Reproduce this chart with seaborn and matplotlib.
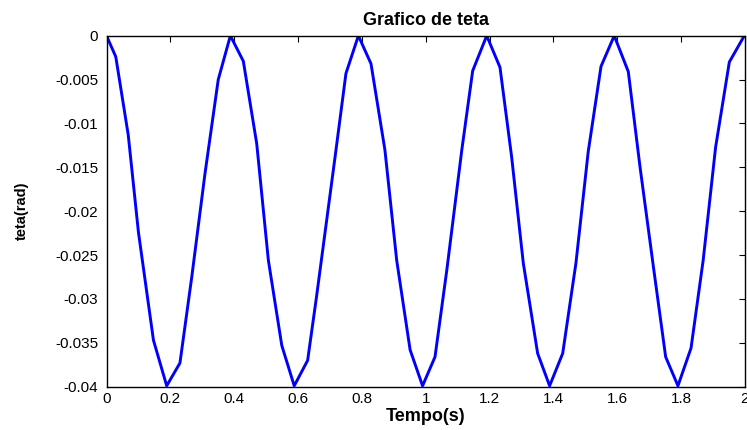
import numpy as np
import matplotlib
matplotlib.use("Agg")
import matplotlib.pyplot as plt
import seaborn as sns

# values (time in s, angle in rad)
tempo = [0.0, 0.029, 0.068, 0.100, 0.147, 0.1885, 0.230, 0.267, 0.3085, 0.350, 0.388,
         0.4285, 0.4705, 0.507, 0.549, 0.588, 0.630, 0.658, 0.716, 0.750, 0.789,
         0.8285, 0.872, 0.909, 0.951, 0.990, 1.029, 1.066, 1.113, 1.147, 1.191,
         1.2325, 1.269, 1.3055, 1.3505, 1.388, 1.429, 1.4705, 1.509, 1.549, 1.5905,
         1.6345, 1.671, 1.713, 1.7515, 1.790, 1.831, 1.869, 1.908, 1.951, 1.998]
teta = [0.0, -0.0024, -0.0113, -0.0224, -0.0347, -0.0399, -0.0373, -0.0275, -0.0157, -0.0050, 0.0,
        -0.0029, -0.0123, -0.0256, -0.0353, -0.0399, -0.0370, -0.0297, -0.0138, -0.0043, 0.0,
        -0.0032, -0.0130, -0.0256, -0.0358, -0.0399, -0.0366, -0.0267, -0.0130, -0.0040, 0.0,
        -0.0036, -0.0138, -0.0259, -0.0362, -0.0399, -0.0362, -0.0259, -0.0132, -0.0035, 0.0,
        -0.0041, -0.0149, -0.0263, -0.0366, -0.0399, -0.0356, -0.0256, -0.0127, -0.0030, 0.0]

xticks = [0, 0.2, 0.4, 0.6, 0.8, 1, 1.2, 1.4, 1.6, 1.8, 2]
yticks = [0, -0.005, -0.01, -0.015, -0.02, -0.025, -0.03, -0.035, -0.04]

sns.set_style("white")
plt.rcParams['font.family'] = ['Liberation Sans', 'DejaVu Sans']
plt.rcParams['text.color'] = 'black'
plt.rcParams['axes.labelcolor'] = 'black'
plt.rcParams['xtick.color'] = 'black'
plt.rcParams['ytick.color'] = 'black'

fig = plt.figure(figsize=(7.47, 4.30), dpi=100)
ax = fig.add_axes([0.1426, 0.1007, 0.8547, 0.8163])

sns.lineplot(x=tempo, y=teta, color='#0000ff', linewidth=2.1,
             estimator=None, sort=False, ax=ax)

ax.set_xlim(0, 2)
ax.set_ylim(-0.04, 0)
ax.set_xticks(xticks)
ax.set_xticklabels([f"{v:g}" for v in xticks])
ax.set_yticks(yticks)
ax.set_yticklabels([f"{v:g}" for v in yticks])
ax.tick_params(direction='in', length=4, width=0.8, colors='black',
               labelcolor='black', labelsize=11, top=True, right=True)
ax.tick_params(axis='y', pad=6)
ax.tick_params(axis='x', pad=4)
for s in ax.spines.values():
    s.set_visible(True)
    s.set_color('black')
    s.set_linewidth(1.0)

ax.set_title("Grafico de teta", fontsize=13, fontweight='bold', pad=8, color='black')
ax.set_xlabel("Tempo(s)", fontsize=13, fontweight='bold', color='black')
ax.xaxis.label.set_va('center')
ax.xaxis.set_label_coords(0.5, -0.086)
ax.set_ylabel("teta(rad)", fontsize=10.5, fontweight='bold', color='black')
ax.yaxis.label.set_va('center')
ax.yaxis.set_label_coords(-0.133, 0.5)

fig.savefig("out.png", dpi=100)
